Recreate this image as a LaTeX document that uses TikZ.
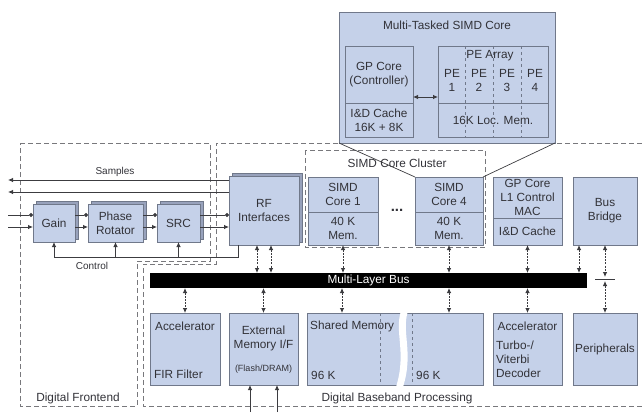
\documentclass[tikz,border=0pt]{standalone}
\usepackage{fontspec}
\setmainfont{Liberation Sans}
\usetikzlibrary{arrows.meta,shadows}
\definecolor{boxfill}{RGB}{197,209,233}
\definecolor{boxline}{RGB}{112,120,138}
\definecolor{backfill}{RGB}{152,162,188}
\definecolor{txt}{RGB}{50,50,56}
\definecolor{regionline}{RGB}{120,120,124}
\definecolor{wireline}{RGB}{60,60,64}

\begin{document}
\begin{tikzpicture}[x=1pt,y=-1pt,
  font=\fontsize{11.8}{14}\selectfont, text=txt,
  >={Latex[length=5pt,width=4.5pt]},
  blk/.style={draw=boxline, fill=boxfill, line width=0.9pt, anchor=north west,
              inner sep=2pt, outer sep=0pt, align=center},
  stacked/.style={blk, copy shadow={shadow xshift=3pt, shadow yshift=3pt,
              fill=backfill, draw=boxline, line width=0.9pt}},
  region/.style={draw=regionline, dash pattern=on 5pt off 3pt, line width=1pt},
  wire/.style={draw=wireline, line width=0.8pt},
  buslink/.style={wire, <->, dash pattern=on 2pt off 1.2pt},
  lbl/.style={inner sep=1pt},
  small/.style={font=\fontsize{10}{11}\selectfont},
]
\useasboundingbox (0,0) rectangle (642,412);

% ---------- functional regions ----------
\draw[region] (20,143) -- (210,143) -- (210,261) -- (137,261) -- (137,406)
              -- (20,406) -- cycle;
\draw[region] (650,143) -- (216,143) -- (216,264) -- (143,264) -- (143,406)
              -- (650,406);
\node[lbl] (lblfe) at (78,398) {Digital Frontend};
\node[lbl] (lblbb) at (397,398) {Digital Baseband Processing};

% SIMD core cluster
\draw[region] (305,150) rectangle (485,247);
\node[lbl] (lblcl) at (397,163) {SIMD Core Cluster};

% ---------- digital frontend ----------
\node[stacked, minimum width=42, minimum height=38] (gain) at (33,204) {Gain};
\node[stacked, minimum width=55, minimum height=38] (phase) at (88,204) {Phase\\Rotator};
\node[stacked, minimum width=43, minimum height=38] (src) at (157,204) {SRC};
\node[stacked, minimum width=70, minimum height=69] (rf) at (229,176) {RF\\Interfaces};

% sample outputs
\coordinate (smpA) at (8,180);
\coordinate (smpB) at (8,192);
\draw[wire, ->] (rf.west |- smpA) -- (smpA);
\draw[wire, ->] (rf.west |- smpB) -- (smpB);
\node[lbl, small] (lblsmp) at (115,172) {Samples};

% input chain
\coordinate (inA) at (8,215);
\coordinate (inB) at (8,227);
\draw[wire, -{Circle[length=4pt]}] (inA) -- (gain.west |- inA);
\draw[wire, ->] (inB) -- (gain.west |- inB);
\draw[wire, -{Circle[length=4pt]}] (gain.east |- inA) -- (phase.west |- inA);
\draw[wire, ->] (gain.east |- inB) -- (phase.west |- inB);
\draw[wire, -{Circle[length=4pt]}] (phase.east |- inA) -- (src.west |- inA);
\draw[wire, ->] (phase.east |- inB) -- (src.west |- inB);
\draw[wire, -{Circle[length=4pt]}] (src.east |- inA) -- (rf.west |- inA);
\draw[wire, ->] (src.east |- inB) -- (rf.west |- inB);

% control feedback
\coordinate (ctl) at (238,257);
\draw[wire, ->] (rf.south -| ctl) -- (ctl) -- (gain.south |- ctl) -- (gain.south);
\draw[wire, ->] (phase.south |- ctl) -- (phase.south);
\draw[wire, ->] (src.south |- ctl) -- (src.south);
\node[lbl, small] (lblctl) at (92,266) {Control};

% ---------- baseband upper row ----------
\node[blk, minimum width=70, minimum height=35] (simd1) at (308,177) {SIMD\\Core 1};
\node[blk, minimum width=70, minimum height=33] (simd1mem) at (308,212) {40 K\\Mem.};
\node (dots) at (397,210) {\fontsize{15}{15}\selectfont\bfseries ...};
\node[blk, minimum width=68, minimum height=35] (simd4) at (415,177) {SIMD\\Core 4};
\node[blk, minimum width=68, minimum height=33] (simd4mem) at (415,212) {40 K\\Mem.};
\node[blk, minimum width=69, minimum height=41] (gpl1) at (493,177) {GP Core\\L1 Control\\MAC};
\node[blk, minimum width=69, minimum height=27] (gpl1c) at (493,218) {I\&D Cache};
\node[blk, minimum width=64, minimum height=68] (bb) at (573,177) {Bus\\Bridge};

% ---------- multi-tasked SIMD core detail ----------
\node[blk, minimum width=216, minimum height=131] (mtsc) at (339,12) {};
\node[lbl] (mtsctitle) at (447,25) {Multi-Tasked SIMD Core};
\node[blk, minimum width=68, minimum height=57] (gpc) at (345,46) {GP Core\\(Controller)};
\node[blk, minimum width=68, minimum height=34] (gpcache) at (345,103) {I\&D Cache\\16K + 8K};
\node[blk, minimum width=110, minimum height=57] (pearr) at (438,46) {};
\node[blk, minimum width=110, minimum height=34] (pemem) at (438,103) {};
\foreach \x in {465,493,521}
  \draw[draw=boxline, dashed, line width=0.7pt] (pearr.north -| \x,0) -- (pemem.south -| \x,0);
\node[lbl] (pelbl) at (490,56) {PE Array};
\node[lbl, align=center] (pe1) at (452,80) {PE\\1};
\node[lbl, align=center] (pe2) at (479,80) {PE\\2};
\node[lbl, align=center] (pe3) at (507,80) {PE\\3};
\node[lbl, align=center] (pe4) at (535,80) {PE\\4};
\node[lbl, fill=boxfill] (locmem) at (pemem.center) {16K Loc. Mem.};
\draw[wire, <->] (gpc.east |- 0,97) -- (pearr.west |- 0,97);

% zoom lines from the detail to SIMD Core 4
\draw[wire, line width=0.7pt] (mtsc.south west) -- (simd4.north west);
\draw[wire, line width=0.7pt] (mtsc.south east) -- (simd4.north east);

% ---------- multi-layer bus ----------
\node[fill=black, anchor=north west, minimum width=437, minimum height=15,
      inner sep=0pt, outer sep=0pt, text=white] (bus) at (150,273) {Multi-Layer Bus};

% ---------- baseband lower row ----------
\node[blk, minimum width=70, minimum height=72] (fir) at (150,313) {};
\node[lbl] (firA) at ([yshift=-13pt]fir.north) {Accelerator};
\node[lbl, anchor=west] (firB) at ([xshift=3pt,yshift=11pt]fir.south west) {FIR Filter};

\node[blk, minimum width=69, minimum height=72] (ext) at (229,313) {};
\node[lbl, align=center] (extA) at (263.5,338) {External\\Memory I/F};
\node[lbl, font=\fontsize{9}{10}\selectfont] (extB) at (263.5,369) {(Flash/DRAM)};

\node[blk, minimum width=176, minimum height=72] (shm) at (307,313) {};
\draw[draw=boxline, dashed, line width=0.7pt] (shm.north -| 380,0) -- (shm.south -| 380,0);
\draw[draw=boxline, dashed, line width=0.7pt] (shm.north -| 412,0) -- (shm.south -| 412,0);
\fill[white] (401,311) .. controls (394,332) and (407,352) .. (396,387)
   -- (403,387) .. controls (414,352) and (401,332) .. (408,311) -- cycle;
\node[lbl, anchor=west] (shmA) at (309,326) {Shared Memory};
\node[lbl, anchor=west] (shmB) at (310,375) {96 K};
\node[lbl, anchor=west] (shmC) at (415,375) {96 K};

\node[blk, minimum width=69, minimum height=72] (turbo) at (493,313) {};
\node[lbl] (turboA) at ([yshift=-13pt]turbo.north) {Accelerator};
\node[lbl, anchor=north west, align=left] (turboB) at (495,340) {Turbo-/\\Viterbi\\Decoder};

\node[blk, minimum width=64, minimum height=72] (per) at (573,313) {Peripherals};

% ---------- bus connections ----------
\draw[buslink] (rf.south -| 257,0) -- (bus.north -| 257,0);
\draw[buslink] (rf.south -| 271,0) -- (bus.north -| 271,0);
\draw[buslink] (simd1mem.south) -- (bus.north -| simd1mem.south);
\draw[buslink] (simd4mem.south) -- (bus.north -| simd4mem.south);
\draw[buslink] (gpl1c.south) -- (bus.north -| gpl1c.south);
\draw[buslink] (bb.south -| 579,0) -- (bus.north -| 579,0);

\draw[buslink] (bus.south -| fir.north) -- (fir.north);
\draw[buslink] (bus.south -| ext.north) -- (ext.north);
\draw[buslink] (bus.south -| 342,0) -- (shm.north -| 342,0);
\draw[buslink] (bus.south -| 449,0) -- (shm.north -| 449,0);
\draw[buslink] (bus.south -| turbo.north) -- (turbo.north);

% bridge to peripheral bus
\coordinate (pbA) at (605,277);
\coordinate (pbB) at (605,281);
\draw[wire] (595,279) -- (615,279);
\draw[buslink] (bb.south) -- (pbA);
\draw[buslink] (pbB) -- (per.north);

% external memory pins
\coordinate (xA) at (250,412);
\coordinate (xB) at (277,412);
\draw[wire, ->] (xA) -- (ext.south -| xA);
\draw[wire, ->] (xB) -- (ext.south -| xB);
\end{tikzpicture}
\end{document}
